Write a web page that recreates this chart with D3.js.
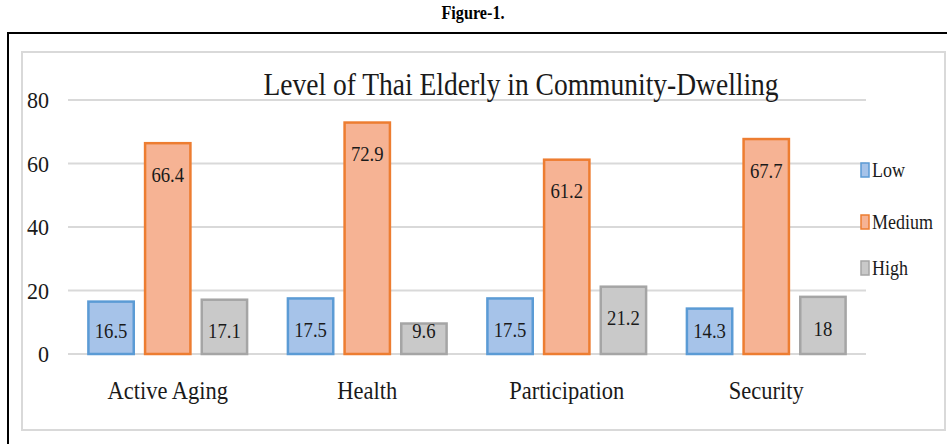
<!DOCTYPE html>
<html lang="en">
<head>
    <meta charset="UTF-8">
    <title>Level of Thai Elderly in Community-Dwelling</title>
    <style>
        body { margin: 0; background: #fff; }
        svg { display: block; font-family: "Liberation Serif", "Times New Roman", serif; }
    </style>
</head>
<body>
    <script src="https://d3js.org/d3.v7.min.js"></script>
    <script>
        const categories = ["Active Aging", "Health", "Participation", "Security"];
        const seriesNames = ["Low", "Medium", "High"];
        const low = [16.5, 17.5, 17.5, 14.3];
        const medium = [66.4, 72.9, 61.2, 67.7];
        const high = [17.1, 9.6, 21.2, 18];
        const yTicks = [0, 20, 40, 60, 80];

        const values = [low, medium, high];
        const fills = ["#a6c3e9", "#f6b394", "#c9c9c9"];
        const strokes = ["#5b9bd5", "#ed7d31", "#a5a5a5"];

        const width = 947, height = 444;
        const svg = d3.select("body").append("svg")
            .attr("width", width)
            .attr("height", height);

        // condensed look of the original text: squeeze horizontally
        const squeeze = (sel, x, y, sx) =>
            sel.attr("transform", `translate(${x},${y}) scale(${sx},1)`);

        // caption + frames
        svg.append("text")
            .call(squeeze, 473, 19, 0.9)
            .attr("text-anchor", "middle")
            .attr("font-weight", "bold")
            .attr("font-size", 18)
            .text("Figure-1.");

        svg.append("rect")
            .attr("x", 8).attr("y", 33)
            .attr("width", 960).attr("height", 430)
            .attr("fill", "none")
            .attr("stroke", "#000")
            .attr("stroke-width", 2);

        svg.append("rect")
            .attr("x", 22).attr("y", 52)
            .attr("width", 923).attr("height", 378)
            .attr("fill", "none")
            .attr("stroke", "#d9d9d9")
            .attr("stroke-width", 2);

        const x0 = d3.scaleBand()
            .domain(categories)
            .range([68, 866]);

        const x1 = d3.scaleBand()
            .domain(seriesNames)
            .range([0, x0.bandwidth()])
            .paddingInner(0.2)
            .paddingOuter(0.36);

        const y = d3.scaleLinear()
            .domain([0, 80])
            .range([354, 100]);

        // gridlines
        svg.append("g")
            .selectAll("line")
            .data(yTicks)
            .join("line")
            .attr("x1", 68).attr("x2", 866)
            .attr("y1", d => y(d)).attr("y2", d => y(d))
            .attr("stroke", "#d9d9d9")
            .attr("stroke-width", 2);

        svg.append("g")
            .selectAll("text")
            .data(yTicks)
            .join("text")
            .each(function (d) { squeeze(d3.select(this), 49, y(d), 0.92); })
            .attr("dy", "0.35em")
            .attr("text-anchor", "end")
            .attr("font-size", 24)
            .attr("fill", "#1a1a1a")
            .text(d => d);

        // title
        svg.append("text")
            .call(squeeze, 521, 95, 0.86)
            .attr("text-anchor", "middle")
            .attr("font-size", 32)
            .attr("fill", "#1a1a1a")
            .text("Level of Thai Elderly in Community-Dwelling");

        // bars
        const groups = svg.append("g")
            .selectAll("g")
            .data(categories)
            .join("g")
            .attr("transform", d => `translate(${x0(d)},0)`);

        const cells = groups.selectAll("g")
            .data((c, i) => seriesNames.map((s, j) => ({ s, j, v: values[j][i] })))
            .join("g");

        cells.append("rect")
            .attr("x", d => x1(d.s))
            .attr("y", d => y(d.v))
            .attr("width", x1.bandwidth())
            .attr("height", d => y(0) - y(d.v))
            .attr("fill", d => fills[d.j])
            .attr("stroke", d => strokes[d.j])
            .attr("stroke-width", 2.5);

        cells.append("text")
            .each(function (d) {
                squeeze(d3.select(this), x1(d.s) + x1.bandwidth() / 2,
                    Math.min(y(d.v) + 31, y(0) - 24), 0.85);
            })
            .attr("dy", "0.35em")
            .attr("text-anchor", "middle")
            .attr("font-size", 22)
            .attr("fill", "#1a1a1a")
            .text(d => d.v);

        // category labels
        svg.append("g")
            .selectAll("text")
            .data(categories)
            .join("text")
            .each(function (d) { squeeze(d3.select(this), x0(d) + x0.bandwidth() / 2, 399, 0.9); })
            .attr("text-anchor", "middle")
            .attr("font-size", 25)
            .attr("fill", "#1a1a1a")
            .text(d => d);

        // legend
        const legend = svg.append("g")
            .selectAll("g")
            .data(seriesNames)
            .join("g")
            .attr("transform", (d, i) => `translate(861,${[170, 222, 268][i]})`);

        legend.append("rect")
            .attr("x", 0).attr("y", -7)
            .attr("width", 8).attr("height", 14)
            .attr("fill", (d, i) => fills[i])
            .attr("stroke", (d, i) => strokes[i])
            .attr("stroke-width", 1.5);

        legend.append("text")
            .attr("transform", "translate(11,0) scale(0.9,1)")
            .attr("dy", "0.35em")
            .attr("font-size", 20)
            .attr("fill", "#1a1a1a")
            .text(d => d);
    </script>
</body>
</html>
